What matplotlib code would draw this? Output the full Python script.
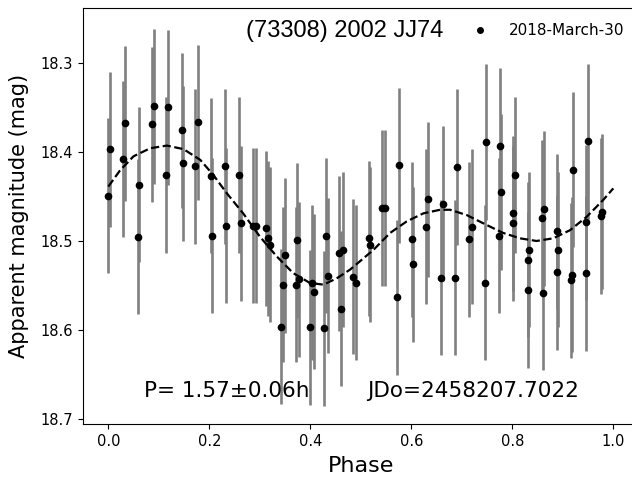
import matplotlib
matplotlib.use("Agg")
import matplotlib.pyplot as plt
from matplotlib.lines import Line2D

# ---- data ----
phase = [0.000, 0.003, 0.029, 0.033, 0.061, 0.058, 0.087, 0.090, 0.114, 0.119,
         0.145, 0.147, 0.172, 0.177, 0.203, 0.205, 0.231, 0.233, 0.259, 0.263,
         0.287, 0.292, 0.312, 0.316, 0.321, 0.342, 0.346, 0.350, 0.371, 0.374,
         0.378, 0.399, 0.403, 0.407, 0.428, 0.431, 0.435, 0.460, 0.457, 0.465,
         0.485, 0.490, 0.516, 0.518, 0.542, 0.547, 0.572, 0.576, 0.601, 0.604,
         0.629, 0.634, 0.659, 0.662, 0.687, 0.690, 0.715, 0.720, 0.745, 0.747,
         0.773, 0.775, 0.778, 0.801, 0.802, 0.806, 0.831, 0.831, 0.834, 0.860,
         0.859, 0.863, 0.889, 0.889, 0.891, 0.917, 0.918, 0.920, 0.945, 0.946,
         0.949, 0.975, 0.978]
mag = [18.449, 18.397, 18.408, 18.368, 18.437, 18.495, 18.369, 18.349, 18.426, 18.350,
       18.376, 18.413, 18.416, 18.367, 18.427, 18.494, 18.416, 18.483, 18.426, 18.480,
       18.483, 18.483, 18.486, 18.497, 18.504, 18.596, 18.549, 18.516, 18.549, 18.499,
       18.543, 18.597, 18.547, 18.557, 18.598, 18.494, 18.539, 18.576, 18.514, 18.510,
       18.540, 18.547, 18.497, 18.504, 18.463, 18.463, 18.563, 18.415, 18.498, 18.526,
       18.484, 18.453, 18.541, 18.458, 18.541, 18.417, 18.498, 18.484, 18.547, 18.389,
       18.494, 18.393, 18.445, 18.480, 18.469, 18.426, 18.555, 18.521, 18.510, 18.558,
       18.474, 18.464, 18.535, 18.489, 18.510, 18.544, 18.538, 18.420, 18.536, 18.479,
       18.388, 18.472, 18.467]
mag_err = 0.087

fit_phase = [0.000, 0.023, 0.050, 0.083, 0.116, 0.149, 0.182, 0.208, 0.234, 0.267,
             0.300, 0.333, 0.366, 0.399, 0.426, 0.452, 0.479, 0.525, 0.558, 0.591,
             0.624, 0.657, 0.677, 0.710, 0.749, 0.782, 0.815, 0.848, 0.881, 0.914,
             0.947, 0.980, 1.000]
fit_mag = [18.439, 18.421, 18.405, 18.396, 18.393, 18.397, 18.409, 18.426, 18.446, 18.469,
           18.495, 18.517, 18.536, 18.547, 18.549, 18.542, 18.532, 18.510, 18.491, 18.478,
           18.469, 18.465, 18.465, 18.471, 18.482, 18.491, 18.497, 18.500, 18.497, 18.488,
           18.473, 18.454, 18.441]

xticks = [0.0, 0.2, 0.4, 0.6, 0.8, 1.0]
yticks = [18.3, 18.4, 18.5, 18.6, 18.7]

title_text = "(73308) 2002 JJ74"
legend_label = "2018-March-30"
period_text = "P= 1.57\u00b10.06h"
jd_text = "JDo=2458207.7022"

# ---- figure ----
W, H = 632, 480
fig = plt.figure(figsize=(W / 100, H / 100), dpi=100)
left_px, right_px, top_px, bottom_px = 82.7, 640, 8, 424.3
ax = fig.add_axes([left_px / W, 1 - bottom_px / H,
                   (right_px - left_px) / W, (bottom_px - top_px) / H])

ax.errorbar(phase, mag, yerr=mag_err, fmt='o', color='black', ms=4.5,
            ecolor='gray', elinewidth=1.9, capsize=0, zorder=3)
ax.plot(fit_phase, fit_mag, '--', color='black', lw=1.6, zorder=4)

x0_px, x1_px = 108.3, 613.3
ppu = x1_px - x0_px
ax.set_xlim((left_px - x0_px) / ppu, (right_px - x0_px) / ppu)
ax.set_ylim(18.7056, 18.2387)
ax.set_xticks(xticks)
ax.set_yticks(yticks)
ax.tick_params(labelsize=10.5)

ax.set_xlabel("Phase", fontsize=16, labelpad=5)
ax.set_ylabel("Apparent magnitude (mag)", fontsize=15, labelpad=8)

fig.text(246 / W, 1 - 37.3 / H, title_text, fontsize=17,
         family=['Liberation Sans', 'DejaVu Sans'], ha='left', va='baseline')
fig.text(144 / W, 1 - 396.7 / H, period_text, fontsize=15.5, ha='left', va='baseline')
fig.text(367.3 / W, 1 - 396.7 / H, jd_text, fontsize=15.5, ha='left', va='baseline')

proxy = Line2D([], [], ls='none', marker='o', color='black', ms=4)
fig.legend([proxy], [legend_label], loc='center right',
           bbox_to_anchor=(632 / W, 1 - 30.7 / H), frameon=False, fontsize=11,
           handletextpad=0.9, borderaxespad=0.1)

fig.savefig("out.png", dpi=100)
